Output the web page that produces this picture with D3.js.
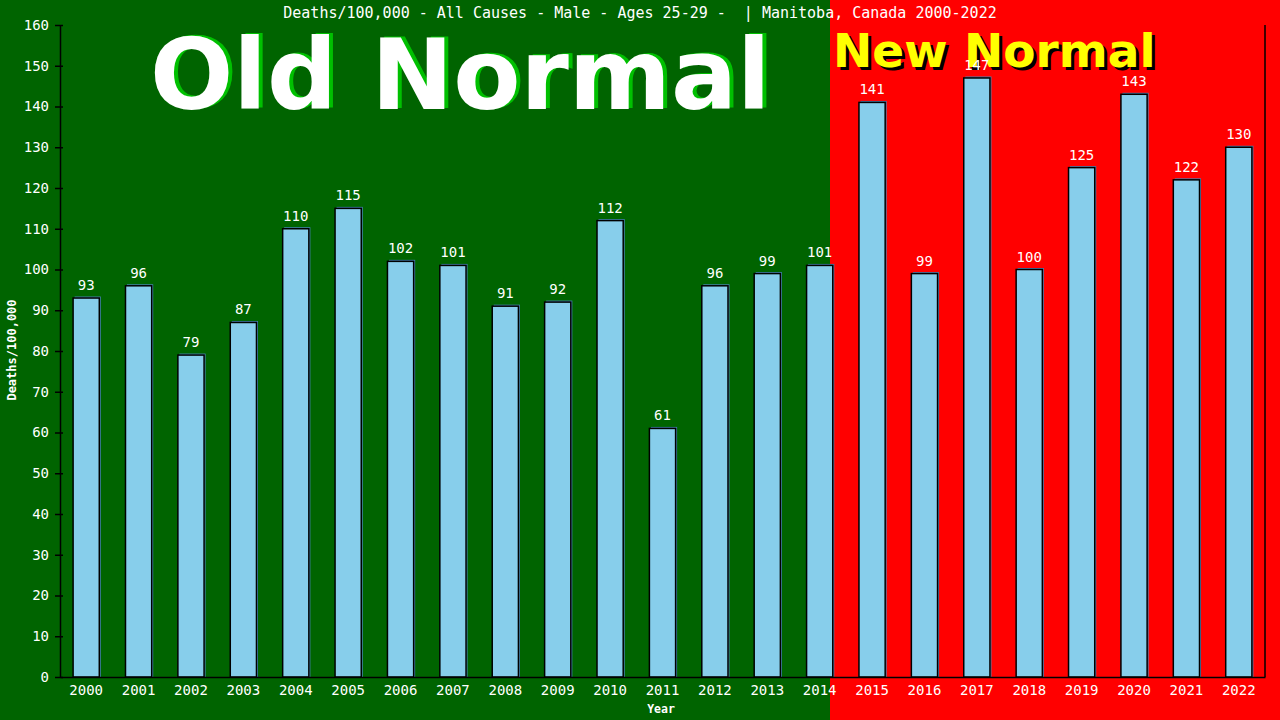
<!DOCTYPE html>
<html>
<head>
<meta charset="utf-8">
<script src="https://cdn.jsdelivr.net/npm/d3@7"></script>
<style>
  html, body { margin: 0; padding: 0; background: #006400; }
  svg { display: block; }
  text { font-family: "DejaVu Sans Mono", monospace; }
</style>
</head>
<body>
<script>
const years = ["2000","2001","2002","2003","2004","2005","2006","2007","2008","2009","2010","2011",
  "2012","2013","2014","2015","2016","2017","2018","2019","2020","2021","2022"];
const deaths = [93,96,79,87,110,115,102,101,91,92,112,61,96,99,101,141,99,147,100,125,143,122,130];
const yTicks = [0,10,20,30,40,50,60,70,80,90,100,110,120,130,140,150,160];
const title = "Deaths/100,000 - All Causes - Male - Ages 25-29 -  | Manitoba, Canada 2000-2022";

const W = 1280, H = 720;
const margin = { top: 25, right: 15, bottom: 43, left: 60 };
const splitX = 830;

const svg = d3.select("body").append("svg")
  .attr("width", W)
  .attr("height", H);

// backgrounds: old normal (green) / new normal (red)
svg.append("rect").attr("x", 0).attr("y", 0).attr("width", splitX).attr("height", H).attr("fill", "#006400");
svg.append("rect").attr("x", splitX).attr("y", 0).attr("width", W - splitX).attr("height", H).attr("fill", "#ff0000");

const x = d3.scaleBand()
  .domain(years)
  .range([margin.left, W - margin.right])
  .paddingInner(0.5)
  .paddingOuter(0.25);

const y = d3.scaleLinear()
  .domain([0, 160])
  .range([H - margin.bottom, margin.top]);

// big labels
svg.append("text")
  .attr("x", 154).attr("y", 108)
  .style("font-family", "'DejaVu Sans', sans-serif")
  .style("font-weight", "bold")
  .style("font-size", "98px")
  .attr("fill", "#00c000")
  .text("Old Normal");
svg.append("text")
  .attr("x", 150).attr("y", 109)
  .style("font-family", "'DejaVu Sans', sans-serif")
  .style("font-weight", "bold")
  .style("font-size", "98px")
  .attr("fill", "#ffffff")
  .text("Old Normal");

svg.append("text")
  .attr("x", 836).attr("y", 70)
  .style("font-family", "'DejaVu Sans', sans-serif")
  .style("font-weight", "bold")
  .style("font-size", "47px")
  .attr("fill", "#000000")
  .text("New Normal");
svg.append("text")
  .attr("x", 833).attr("y", 67)
  .style("font-family", "'DejaVu Sans', sans-serif")
  .style("font-weight", "bold")
  .style("font-size", "47px")
  .attr("fill", "#ffff00")
  .text("New Normal");

// title
svg.append("text")
  .attr("x", 640).attr("y", 18)
  .attr("text-anchor", "middle")
  .attr("fill", "#ffffff")
  .style("font-size", "15px")
  .attr("xml:space", "preserve")
  .style("white-space", "pre")
  .text(title);

// bars: blue shadow then the bar itself
const bars = svg.append("g");
bars.selectAll("rect.shadow")
  .data(deaths)
  .enter().append("rect")
  .attr("class", "shadow")
  .attr("x", (d, i) => x(years[i]) + 1.5)
  .attr("y", d => y(d) - 1.5)
  .attr("width", x.bandwidth())
  .attr("height", d => y(0) - y(d) + 1.5)
  .attr("fill", "#4682b4");

bars.selectAll("rect.bar")
  .data(deaths)
  .enter().append("rect")
  .attr("class", "bar")
  .attr("x", (d, i) => x(years[i]))
  .attr("y", d => y(d))
  .attr("width", x.bandwidth())
  .attr("height", d => y(0) - y(d))
  .attr("fill", "#87ceeb")
  .attr("stroke", "#000")
  .attr("stroke-width", 1.5);

// value labels
svg.append("g").selectAll("text")
  .data(deaths)
  .enter().append("text")
  .attr("x", (d, i) => x(years[i]) + x.bandwidth() / 2)
  .attr("y", d => y(d) - 8)
  .attr("text-anchor", "middle")
  .attr("fill", "#ffffff")
  .style("font-size", "14px")
  .text(d => d);

// y axis
const yAxis = svg.append("g")
  .attr("transform", "translate(" + margin.left + ",0)")
  .call(d3.axisLeft(y).tickValues(yTicks).tickSize(5).tickSizeOuter(0));
yAxis.select(".domain").attr("stroke", "#000").attr("stroke-width", 1.5);
yAxis.selectAll(".tick line").attr("stroke", "#000").attr("x1", 3).attr("stroke-width", 1.5);
yAxis.selectAll(".tick text")
  .attr("fill", "#ffffff")
  .attr("x", -11)
  .style("font-family", "'DejaVu Sans Mono', monospace")
  .style("font-size", "14px");

// x axis
const xAxis = svg.append("g")
  .attr("transform", "translate(0," + y(0) + ")")
  .call(d3.axisBottom(x).tickSize(0).tickSizeOuter(0));
xAxis.select(".domain").attr("stroke", "#000").attr("stroke-width", 1.5);
xAxis.selectAll(".tick text")
  .attr("fill", "#ffffff")
  .attr("y", 8)
  .style("font-family", "'DejaVu Sans Mono', monospace")
  .style("font-size", "14px");

// right frame line
svg.append("line")
  .attr("x1", W - margin.right).attr("x2", W - margin.right)
  .attr("y1", y(160)).attr("y2", y(0))
  .attr("stroke", "#000").attr("stroke-width", 1.5);

// axis titles
svg.append("text")
  .attr("transform", "translate(16,350) rotate(-90)")
  .attr("text-anchor", "middle")
  .attr("fill", "#ffffff")
  .style("font-size", "12px")
  .style("font-weight", "bold")
  .text("Deaths/100,000");

svg.append("text")
  .attr("x", 661).attr("y", 713)
  .attr("text-anchor", "middle")
  .attr("fill", "#ffffff")
  .style("font-size", "11.5px")
  .style("font-weight", "bold")
  .text("Year");
</script>
</body>
</html>
